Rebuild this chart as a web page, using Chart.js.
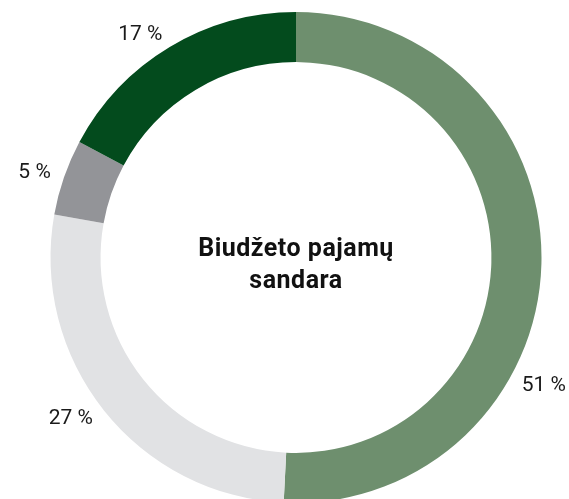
<!DOCTYPE html>
<html lang="lt">
<head>
<meta charset="utf-8">
<title>Biudžeto pajamų sandara</title>
<script src="https://cdn.jsdelivr.net/npm/chart.js@4.4.1/dist/chart.umd.min.js"></script>
<style>
  html, body { margin: 0; padding: 0; background: #ffffff; overflow: hidden; }
  #wrap { width: 569px; height: 499px; overflow: hidden; }
  canvas { display: block; }
</style>
</head>
<body>
<div id="wrap">
  <canvas id="chartPajamos" width="569" height="515"></canvas>
</div>
<script>
// ============================
// Duomenys
// ============================
const dalys = ["Dalis A", "Dalis B", "Dalis C", "Dalis D"];
const procentai = [50.8, 27.0, 5.0, 17.2];
const spalvos = ["#6e8f6e", "#e1e2e4", "#939498", "#034b1d"];
const pavadinimas = ["Biudžeto pajamų", "sandara"];

// ============================
// Etiketės už žiedo ribų
// ============================
const etiketes = {
  id: "etiketes",
  afterDatasetsDraw(chart) {
    const ctx = chart.ctx;
    const meta = chart.getDatasetMeta(0);
    const W = chart.width;
    ctx.save();
    ctx.font = "21px Roboto";
    ctx.fillStyle = "#1a1a1a";
    ctx.textBaseline = "middle";

    meta.data.forEach((arc, i) => {
      const p = arc.getProps(["x", "y", "startAngle", "endAngle", "outerRadius"], true);
      const tekstas = Math.round(procentai[i]) + " %";
      const w = ctx.measureText(tekstas).width;
      const r = p.outerRadius + 14;
      let a = (p.startAngle + p.endAngle) / 2;
      let x = p.x + Math.cos(a) * r;
      let y = p.y + Math.sin(a) * r;
      const kaire = Math.cos(a) < 0;

      // jei netelpa dešinėje, slenkam žemyn apskritimu
      if (!kaire && x + w > W - 3) {
        const dx = W - 3 - w - p.x;
        const leidz = Math.acos(Math.min(1, dx / r));
        a = Math.sin(a) >= 0 ? leidz : -leidz;
        x = p.x + Math.cos(a) * r;
        y = p.y + Math.sin(a) * r;
      }

      ctx.textAlign = kaire ? "right" : "left";
      ctx.fillText(tekstas, x, y);
    });
    ctx.restore();
  }
};

// ============================
// Tekstas centre
// ============================
const centras = {
  id: "centras",
  afterDraw(chart) {
    const ctx = chart.ctx;
    const arc = chart.getDatasetMeta(0).data[0];
    if (!arc) return;
    ctx.save();
    ctx.font = "bold 25px Roboto";
    ctx.letterSpacing = "0.5px";
    ctx.fillStyle = "#111111";
    ctx.textAlign = "center";
    ctx.textBaseline = "alphabetic";
    ctx.fillText(pavadinimas[0], arc.x, 256);
    ctx.fillText(pavadinimas[1], arc.x, 288);
    ctx.restore();
  }
};

new Chart(document.getElementById("chartPajamos"), {
  type: "doughnut",
  data: {
    labels: dalys,
    datasets: [{
      data: procentai,
      backgroundColor: spalvos,
      borderWidth: 0,
      hoverBorderWidth: 0,
      hoverOffset: 0,
      offset: 0
    }]
  },
  options: {
    responsive: false,
    animation: false,
    cutout: "79.6%",
    layout: { padding: { left: 50, right: 27, top: 12, bottom: 12 } },
    plugins: {
      legend: { display: false },
      tooltip: { enabled: false }
    },
    events: []
  },
  plugins: [etiketes, centras]
});
</script>
</body>
</html>
